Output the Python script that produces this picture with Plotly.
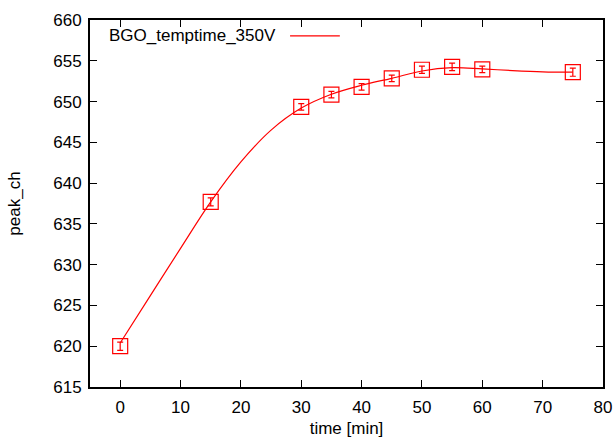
import plotly.graph_objects as go

# measured points
time_min = [0, 15, 30, 35, 40, 45, 50, 55, 60, 75]
peak_ch = [620.0, 637.7, 649.35, 650.85, 651.8, 652.85, 653.9, 654.25, 653.95, 653.6]
peak_err = [0.5, 0.5, 0.4, 0.4, 0.4, 0.4, 0.45, 0.45, 0.4, 0.5]

# fitted curve
curve_t = [0, 5, 10, 15, 20, 25, 30, 35, 40, 45, 50, 55, 60, 65, 70, 75]
curve_y = [620.4, 626.2, 632.0, 637.7, 642.6, 646.5, 649.2, 650.9, 652.0, 652.85,
           653.75, 654.15, 654.0, 653.8, 653.65, 653.6]

x_ticks = [0, 10, 20, 30, 40, 50, 60, 70, 80]
y_ticks = [615, 620, 625, 630, 635, 640, 645, 650, 655, 660]

legend_label = "BGO_temptime_350V"
red = "#ff0000"
font = "Liberation Sans, Arial, sans-serif"
fs = 17

fig = go.Figure()
fig.add_trace(go.Scatter(
    x=curve_t, y=curve_y, mode="lines", line=dict(color=red, width=1.2, shape="spline", smoothing=1.0),
    showlegend=False, hoverinfo="skip"))
fig.add_trace(go.Scatter(
    x=time_min, y=peak_ch, mode="markers",
    marker=dict(symbol="square-open", size=15, color=red, line=dict(width=1.2, color=red)),
    error_y=dict(type="data", array=peak_err, visible=True, color=red, thickness=1.2, width=3),
    showlegend=False))

axis_common = dict(
    showline=True, linecolor="black", linewidth=2, mirror="allticks",
    ticks="inside", ticklen=7, tickwidth=1.2, tickcolor="black",
    showgrid=False, zeroline=False, automargin=False,
    tickfont=dict(family=font, size=fs, color="black"),
)

fig.update_layout(
    width=616, height=438,
    margin=dict(l=90, r=13, t=20, b=51),
    paper_bgcolor="white", plot_bgcolor="white",
    showlegend=False,
    font=dict(family=font, size=fs, color="black"),
    xaxis=dict(range=[-5, 80], tickvals=x_ticks, ticktext=[str(v) for v in x_ticks],
               ticklabelstandoff=4,
               title=dict(text="time [min]", font=dict(family=font, size=fs), standoff=10),
               **axis_common),
    yaxis=dict(range=[615, 660], tickvals=y_ticks, ticktext=[str(v) for v in y_ticks],
               ticklabelstandoff=3,
               title=dict(text="peak_ch", font=dict(family=font, size=fs), standoff=28),
               **axis_common),
)

# gnuplot-style key: text then sample line
fig.add_annotation(xref="paper", yref="paper", x=0.033, y=0.959, xanchor="left", yanchor="middle",
                   text=legend_label, showarrow=False, font=dict(family=font, size=fs, color="black"))
fig.add_shape(type="line", xref="paper", yref="paper", x0=0.39, x1=0.487, y0=0.957, y1=0.957,
              line=dict(color=red, width=1.2))

fig.write_html("out.html")
